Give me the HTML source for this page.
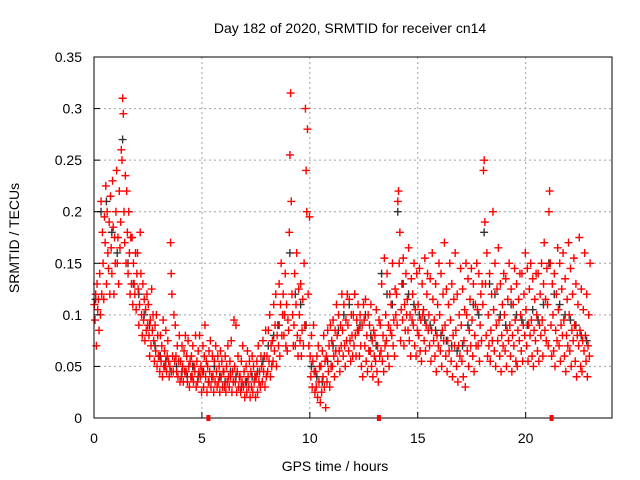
<!DOCTYPE html>
<html><head><meta charset="utf-8"><style>
body{margin:0;background:#fff;}
svg{display:block;font-family:"Liberation Sans",sans-serif;}
</style></head><body>
<svg id="chart" width="640" height="480">
<text x="350" y="33" text-anchor="middle" font-size="14" fill="#000">Day 182 of 2020, SRMTID for receiver cn14</text>
<text x="335" y="471" text-anchor="middle" font-size="14" fill="#000">GPS time / hours</text>
<text transform="translate(19,238) rotate(-90)" text-anchor="middle" font-size="14" fill="#000">SRMTID / TECUs</text>
<g id="grid"></g><g id="marks"></g><g id="axes"></g>
</svg>
<script>
const xTicks=[0,5,10,15,20];
const yTicks=[0,0.05,0.1,0.15,0.2,0.25,0.3,0.35];
const yTickLabels=["0","0.05","0.1","0.15","0.2","0.25","0.3","0.35"];
const binHours=0.25;
const redBins=[
[110,95,120,70,130,105,115,85],[140,100,210,120,180,150,115,195],[170,225,130,200,160,145,190,120],[215,165,140,230,185,120,175,150],
[200,240,150,175,130,220,165,190],[260,250,310,295,200,170,235,150],[220,180,140,200,160,120,175,130],[175,110,150,130,120,160,105,140],
[160,125,90,110,180,140,100,80],[130,95,115,75,105,85,120,90],[110,80,60,95,70,125,85,100],[75,55,90,65,100,50,80,60],
[60,45,80,55,70,40,95,50],[65,50,85,45,60,75,55,40],[50,170,140,120,60,45,100,55],[90,60,45,70,40,55,80,35],
[55,40,70,50,35,65,45,80],[45,60,35,75,50,30,55,40],[60,40,70,35,50,45,80,30],[55,35,65,45,80,40,50,25],
[45,70,30,60,90,40,55,25],[50,35,65,45,75,30,40,60],[40,25,55,35,70,45,30,60],[35,50,25,65,40,55,30,45],
[45,30,60,25,50,35,70,40],[30,55,40,75,25,45,35,95],[50,35,90,25,45,60,30,40],[40,25,55,35,70,30,45,20],
[35,50,25,65,40,30,55,20],[45,30,60,25,50,35,40,20],[40,55,25,70,35,45,30,60],[50,35,75,45,60,30,85,40],
[60,45,85,55,100,40,70,50],[75,55,110,65,90,120,50,80],[90,70,130,60,110,150,80,100],[120,80,100,140,70,110,65,95],
[85,180,255,315,210,120,100,70],[90,140,70,110,160,80,60,125],[100,75,130,60,85,115,70,150],[90,300,240,200,280,120,70,195],
[60,40,80,30,55,90,45,25],[45,30,60,20,70,35,50,15],[50,25,65,40,80,30,55,10],[60,35,85,45,70,30,90,50],
[75,50,95,60,40,85,65,110],[80,55,100,65,45,90,70,120],[85,60,110,70,50,95,75,120],[90,65,115,75,55,100,80,60],
[100,70,120,80,60,95,85,110],[85,60,100,70,50,90,40,110],[95,70,115,55,80,45,100,65],[90,65,110,50,75,40,85,60],
[80,55,105,45,70,35,95,60],[90,65,130,55,80,45,155,70],[100,75,140,60,90,50,120,85],[110,80,150,70,95,60,125,100],
[120,90,210,220,150,180,75,105],[130,95,155,70,110,85,140,100],[115,85,165,75,100,60,135,95],[120,90,150,70,105,60,140,85],
[110,80,145,65,95,55,130,100],[105,75,155,65,90,120,140,85],[100,70,135,55,85,160,115,75],[95,60,130,45,80,110,70,150],
[100,65,140,50,85,120,75,170],[90,60,125,45,75,110,65,150],[95,55,130,40,80,115,70,160],[85,50,120,35,70,100,60,145],
[90,55,125,40,75,105,30,150],[100,65,135,50,85,115,70,145],[95,60,130,45,80,110,70,150],[105,70,140,55,90,120,75,130],
[110,240,250,190,130,80,160,60],[100,70,140,55,85,120,75,200],[105,65,150,50,90,125,75,165],[95,60,130,45,80,110,70,140],
[100,65,135,50,85,115,75,150],[90,60,125,45,80,110,70,145],[95,55,130,50,85,115,75,140],[100,65,140,55,90,120,80,160],
[105,70,145,55,90,125,80,150],[95,60,135,50,85,115,75,140],[100,65,140,55,90,120,80,150],[95,60,130,170,85,115,75,145],
[110,70,200,220,150,90,60,130],[100,65,140,50,85,120,75,165],[105,70,150,55,90,125,80,160],[95,60,135,45,80,115,70,170],
[100,65,145,50,85,120,75,155],[90,55,130,40,80,110,70,175],[85,50,125,45,75,105,65,160],[80,55,120,40,70,100,60,150]
];
const blackVals=[115,200,210,180,160,270,150,130,120,100,90,70,60,55,45,50,45,40,50,40,45,35,50,40,35,45,40,30,35,40,45,55,70,80,90,100,160,120,110,90,50,40,35,55,70,85,100,110,120,90,100,80,70,140,120,110,200,130,120,110,100,95,90,85,80,75,70,65,70,90,110,100,180,130,120,100,90,110,100,95,90,105,95,110,150,120,110,100,95,90,80,75];
const gapMarks=[5.3,13.2,21.2];

const NS="http://www.w3.org/2000/svg";
const L=94,R=612,T=57,B=418,XMAX=24,YMAX=0.35;
const xs=v=>L+(R-L)*v/XMAX;
const ys=v=>B-(B-T)*v/YMAX;
function mk(tag,attrs,parent){const e=document.createElementNS(NS,tag);for(const k in attrs)e.setAttribute(k,attrs[k]);parent.appendChild(e);return e;}
const grid=document.getElementById('grid'),marks=document.getElementById('marks'),axes=document.getElementById('axes');
xTicks.forEach(t=>{if(t>0){const g=mk('line',{x1:xs(t),x2:xs(t),y1:T,y2:B,stroke:'#a0a0a0','stroke-dasharray':'2,3','stroke-width':1},grid);

}
const tl=mk('text',{x:xs(t),y:B+25,'text-anchor':'middle','font-size':14,fill:'#000'},axes);tl.textContent=t;


mk('line',{x1:xs(t),x2:xs(t),y1:B,y2:B-6,stroke:'#000'},axes);});
yTicks.forEach((t,i)=>{if(t>0&&t<YMAX){const g=mk('line',{x1:L,x2:R,y1:ys(t),y2:ys(t),stroke:'#a0a0a0','stroke-dasharray':'2,3','stroke-width':1},grid);

}
const tl=mk('text',{x:L-12,y:ys(t)+5,'text-anchor':'end','font-size':14,fill:'#000'},axes);tl.textContent=yTickLabels[i];


mk('line',{x1:L,x2:L+6,y1:ys(t),y2:ys(t),stroke:'#000'},axes);});
function plus(x,y,c,name){const p=mk('path',{d:`M${x-4},${y}h8M${x},${y-4}v8`,stroke:c,'stroke-width':1.4,fill:'none'},marks);

}
blackVals.forEach((v,i)=>{plus(xs((i+0.3)*binHours),ys(v/1000),'#333','black-point');});
redBins.forEach((bin,i)=>{bin.forEach((v,j)=>{plus(xs((i+(j+0.5)/bin.length)*binHours),ys(v/1000),'#ff0000','red-point');});});
const frame=mk('rect',{x:L,y:T,width:R-L,height:B-T,fill:'none',stroke:'#000','stroke-width':1},axes);


gapMarks.forEach(h=>{const r=mk('rect',{x:xs(h)-2,y:B-3,width:4,height:6,fill:'#ff0000'},axes);

});
</script>
</body></html>
